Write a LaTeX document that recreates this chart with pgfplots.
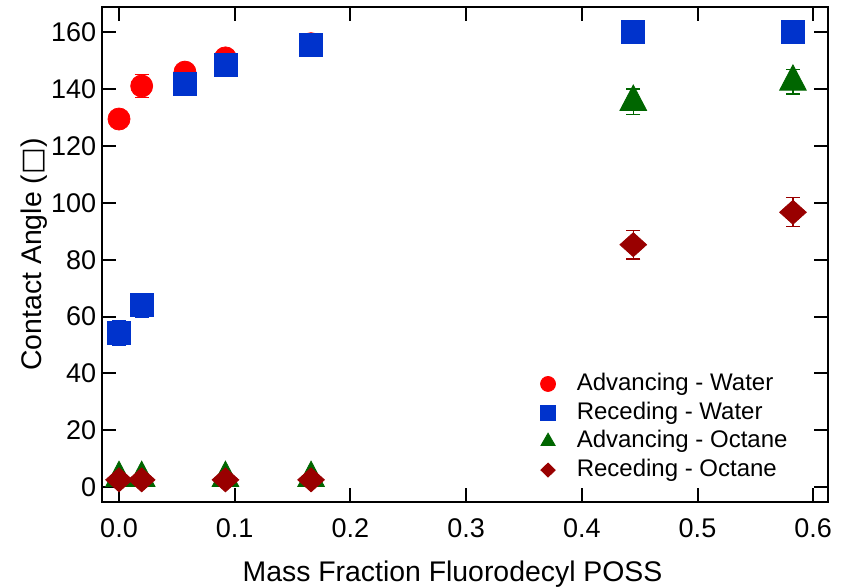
\documentclass[border=0pt]{standalone}
\usepackage{fontspec}
\setmainfont{Liberation Sans}
\newfontfamily\dejavu{DejaVu Sans}
\usepackage{pgfplots}
\pgfplotsset{compat=1.18}
\definecolor{cred}{RGB}{255,0,0}
\definecolor{cblue}{RGB}{0,51,204}
\definecolor{cgreen}{RGB}{0,102,0}
\definecolor{cdred}{RGB}{153,0,0}
\pgfplotstableread{
x y e
0 129.5 1
0.0196 141.1 4
0.057 146 1
0.092 151 1
0.166 156 1
}\advwater
\pgfplotstableread{
x y e
0 54.1 4.3
0.0196 64.0 4.2
0.057 141.7 1
0.092 148.7 1
0.166 155.4 1
0.4445 160.3 0.5
0.5825 160.3 0.5
}\recwater
\pgfplotstableread{
x y e
0 3.2 0
0.0196 3.2 0
0.092 3.2 0
0.166 3.2 0
0.4445 135.5 4.5
0.5825 142.6 4.3
}\advoct
\pgfplotstableread{
x y e
0 2.6 0
0.0196 2.6 0
0.092 2.6 0
0.166 2.6 0
0.4445 85.3 5.0
0.5825 96.7 5.1
}\recoct
\begin{document}
\begin{tikzpicture}
\begin{axis}[
  scale only axis, width=363bp, height=247.5bp,
  xmin=-0.0147, xmax=0.6128, ymin=-5.2, ymax=168.9,
  xtick={0,0.1,0.2,0.3,0.4,0.5,0.6}, ytick={0,20,40,60,80,100,120,140,160},
  tick align=inside, major tick length=7bp,
  every tick/.style={line width=1bp, black},
  axis line style={line width=1bp},
  /pgf/number format/assume math mode=true,
  xticklabel={\pgfmathprintnumber[fixed,fixed zerofill,precision=1]{\tick}},
  xticklabel style={anchor=base, inner sep=0pt, yshift=-17.5bp, font=\fontsize{13.5bp}{16bp}\selectfont},
  yticklabel style={anchor=east, inner sep=0pt, xshift=-2.7bp, font=\fontsize{13.5bp}{16bp}\selectfont},
  xlabel={Mass Fraction Fluorodecyl POSS},
  ylabel={Contact Angle ({\dejavu □})},
  every axis x label/.style={at={(axis description cs:0.4828,-0.161)}, anchor=base, font=\fontsize{14.2bp}{17bp}\selectfont},
  every axis y label/.style={at={(axis description cs:-0.093,0.5)}, rotate=90, anchor=center, font=\fontsize{14.2bp}{17bp}\selectfont},
  legend cell align=left,
  legend style={at={(axis cs:0.364,40.5)}, anchor=north west, draw=none, fill=none, inner sep=0pt,
    row sep=2.85bp, font=\fontsize{12bp}{14bp}\selectfont,
    nodes={inner sep=0pt, text height=9bp, text depth=2.5bp},
    /tikz/every odd column/.append style={column sep=10.6bp}},
  legend image code/.code={\draw[#1] plot coordinates {(0bp,0bp)};},
  error bars/y dir=both, error bars/y explicit,
  error bars/error bar style={line width=0.7bp},
  error bars/error mark options={rotate=90, mark size=3.5bp, line width=0.7bp},
]
\addlegendimage{only marks, mark=*, color=cred, mark size=3.75bp}
\addlegendentry{Advancing - Water}
\addlegendimage{only marks, mark=square*, color=cblue, mark size=3.75bp}
\addlegendentry{Receding - Water}
\addlegendimage{only marks, mark=triangle*, color=cgreen, mark size=4.1bp}
\addlegendentry{Advancing - Octane}
\addlegendimage{only marks, mark=diamond*, color=cdred, mark size=3.5bp, mark options={xscale=1.37}}
\addlegendentry{Receding - Octane}

\addplot[forget plot, only marks, mark=*, color=cred, mark size=5.5bp] table[x=x, y=y, y error=e] {\advwater};
\addplot[forget plot, only marks, mark=square*, color=cblue, mark size=5.75bp] table[x=x, y=y, y error=e] {\recwater};
\addplot[forget plot, only marks, mark=triangle*, color=cgreen, mark size=7.7bp, mark options={yscale=1.1}] table[x=x, y=y, y error=e] {\advoct};
\addplot[forget plot, only marks, mark=diamond*, color=cdred, mark size=6bp, mark options={xscale=1.48}] table[x=x, y=y, y error=e] {\recoct};
\end{axis}
\pgfresetboundingbox
\path (current axis.south west) ++(-51bp,-42.5bp) rectangle ([xshift=7bp,yshift=3.5bp]current axis.north east);
\end{tikzpicture}
\end{document}
